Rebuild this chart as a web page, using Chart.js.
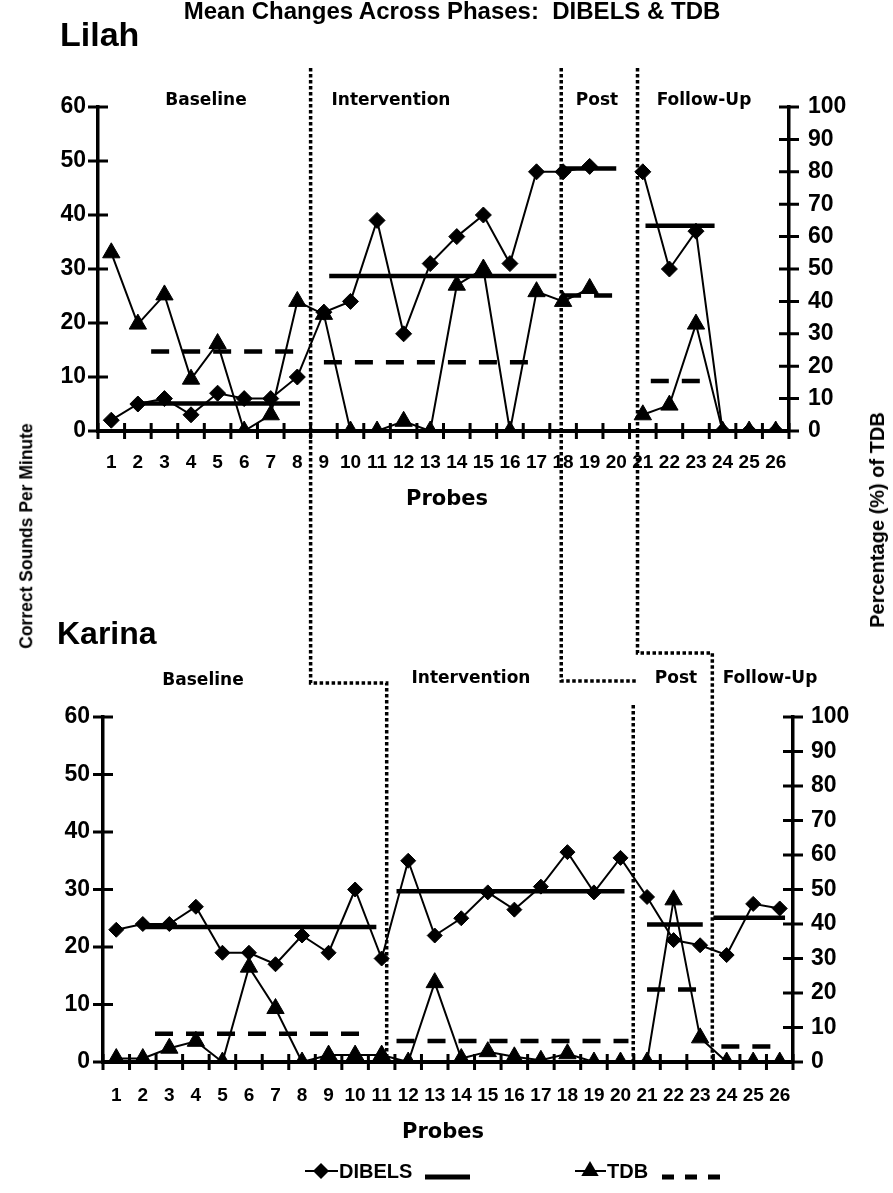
<!DOCTYPE html>
<html><head><meta charset="utf-8">
<script src="https://cdn.jsdelivr.net/npm/chart.js@4.4.1/dist/chart.umd.min.js"></script>
<style>
html,body{margin:0;padding:0;background:#fff;}
#wrap{position:relative;width:893px;height:1193px;overflow:hidden;background:#fff;}
canvas{position:absolute;left:0;top:0;}
.t{position:absolute;white-space:nowrap;color:#000;font-weight:bold;font-family:"Liberation Sans",Arial,sans-serif;line-height:1;transform:translate(-50%,-50%);}
.p{font-family:"DejaVu Sans",sans-serif;font-size:17px;}
</style></head><body>
<div id="wrap">
<canvas id="c1" width="893" height="1193"></canvas>
<canvas id="c2" width="893" height="1193"></canvas>
<div class="t" style="left:452px;top:11px;font-size:24px;">Mean Changes Across Phases:&nbsp; DIBELS &amp; TDB</div>
<div class="t" style="left:60px;top:34px;font-size:34px;transform:translate(0,-50%);">Lilah</div>
<div class="t" style="left:57px;top:633px;font-size:32px;transform:translate(0,-50%);">Karina</div>
<div class="t p" style="left:206px;top:99px;">Baseline</div>
<div class="t p" style="left:391px;top:99px;">Intervention</div>
<div class="t p" style="left:597px;top:99px;">Post</div>
<div class="t p" style="left:704px;top:99px;">Follow-Up</div>
<div class="t p" style="left:203px;top:679px;">Baseline</div>
<div class="t p" style="left:471px;top:677px;">Intervention</div>
<div class="t p" style="left:676px;top:677px;">Post</div>
<div class="t p" style="left:770px;top:677px;">Follow-Up</div>
<div class="t" style="left:447px;top:498px;font-size:21px;font-family:'DejaVu Sans',sans-serif;">Probes</div>
<div class="t" style="left:443px;top:1131px;font-size:21px;font-family:'DejaVu Sans',sans-serif;">Probes</div>
<div class="t" style="left:27px;top:536px;font-size:17.5px;transform:translate(-50%,-50%) rotate(-90deg);">Correct Sounds Per Minute</div>
<div class="t" style="left:877px;top:520px;font-size:20px;transform:translate(-50%,-50%) rotate(-90deg);">Percentage (%) of TDB</div>
</div>
<script>
// ---------- data ----------
const probes = [1,2,3,4,5,6,7,8,9,10,11,12,13,14,15,16,17,18,19,20,21,22,23,24,25,26];
const leftTicks = [0,10,20,30,40,50,60];
const rightTicks = [0,10,20,30,40,50,60,70,80,90,100];

const lilahDibels = [2,5,6,3,7,6,6,10,22,24,39,18,31,36,40,31,48,48,49,null,48,30,37,0,0,0];
const lilahTdb    = [55,33,42,16,27,0,5,40,36,0,0,3,0,45,50,0,43,40,44,null,5,8,33,0,0,0];
const karinaDibels = [23,24,24,27,19,19,17,22,19,30,18,35,22,25,29.5,26.5,30.5,36.5,29.5,35.5,28.7,21.2,20.3,18.6,27.5,26.7];
const karinaTdb    = [1,1,4,6,0,27.5,15.5,0,2,2,2,0,23,1,3,1.5,0.5,2.4,0,0,0,47,7,0,0,0];

// phase means (level) and the probe span each mean line covers
const lilahDibelsMean = [5.1, 28.7, 48.6, 38];
const lilahDibelsFrom = [2, 9.2, 18, 21.1];
const lilahDibelsTo   = [8.1, 17.75, 20, 23.7];
const lilahTdbMean = [24.5, 21.2, 41.8, 15.4];
const lilahTdbFrom = [2.5, 9.0, 18, 21.3];
const lilahTdbTo   = [8.0, 17.0, 20.2, 23.2];

const karinaDibelsMean = [23.5, 29.7, 23.9, 25.1];
const karinaDibelsFrom = [2.03, 11.56, 21.0, 23.5];
const karinaDibelsTo   = [10.8, 20.15, 23.1, 26.2];
const karinaTdbMean = [8.2, 6.1, 21, 4.5];
const karinaTdbFrom = [2.46, 11.56, 21.0, 23.8];
const karinaTdbTo   = [10.5, 20.3, 22.9, 26.05];

// phase change positions (in probe units)
const lilahBreaks  = [8.5, 17.93, 20.8];
const karinaBreaks = [11.19, 20.48, 23.46];

// ---------- helpers ----------
const FONT = "'Liberation Sans', Arial, sans-serif";
function pts(vals){ return probes.map((p,i)=>({x:p, y:vals[i]})); }
function meanSets(levels, from, to, axis, dashed){
  return levels.map((v,i)=>({
    data:[{x:from[i],y:v},{x:to[i],y:v}], yAxisID:axis,
    borderColor:'#000', borderWidth:4.5, borderDash: dashed ? [18,13] : [],
    pointRadius:0, fill:false, tension:0, borderCapStyle:'butt'
  }));
}
function series(vals, axis, style, r){
  return { data: pts(vals), yAxisID: axis, borderColor:'#000', backgroundColor:'#000',
    borderWidth:2, pointStyle:style, pointRadius:r, pointBorderWidth:1, pointBackgroundColor:'#000',
    pointBorderColor:'#000', tension:0, spanGaps:false, fill:false };
}
const crossTicks = {
  id:'crossTicks',
  beforeDatasetsDraw(chart){
    const {ctx, chartArea:a, scales} = chart;
    ctx.save(); ctx.strokeStyle='#000'; ctx.lineWidth=3;
    ctx.beginPath();
    for(let k=0;k<=probes.length;k++){
      const px = scales.x.getPixelForValue(k+0.5);
      ctx.moveTo(px, a.bottom-8); ctx.lineTo(px, a.bottom+8);
    }
    leftTicks.forEach(v=>{ const py=scales.yL.getPixelForValue(v); ctx.moveTo(a.left-10,py); ctx.lineTo(a.left+10,py); });
    rightTicks.forEach(v=>{ const py=scales.yR.getPixelForValue(v); ctx.moveTo(a.right-10,py); ctx.lineTo(a.right+10,py); });
    ctx.stroke(); ctx.restore();
  }
};
function makeOptions(padTop, padBottom, leftW, rightW, lPad, rPad, xPad){
  return {
    responsive:false, animation:false, devicePixelRatio:1,
    layout:{padding:{top:padTop,bottom:padBottom,left:0,right:0}},
    plugins:{legend:{display:false}, tooltip:{enabled:false}},
    scales:{
      x:{type:'linear', min:0.5, max:26.5,
        afterBuildTicks:s=>{ s.ticks = probes.map(v=>({value:v})); },
        afterFit:s=>{ s.height = 40; },
        grid:{display:false, drawTicks:false},
        border:{display:true, color:'#000', width:4},
        ticks:{autoSkip:false, maxRotation:0, padding:xPad, color:'#000',
          font:{family:FONT, weight:'bold', size:19}, callback:v=>String(v)}},
      yL:{type:'linear', position:'left', min:0, max:60,
        afterBuildTicks:s=>{ s.ticks = leftTicks.map(v=>({value:v})); },
        afterFit:s=>{ s.width = leftW; },
        grid:{display:false, drawTicks:false},
        border:{display:true, color:'#000', width:3.5},
        ticks:{padding:lPad, color:'#000', font:{family:FONT, weight:'bold', size:23}}},
      yR:{type:'linear', position:'right', min:0, max:100,
        afterBuildTicks:s=>{ s.ticks = rightTicks.map(v=>({value:v})); },
        afterFit:s=>{ s.width = rightW; },
        grid:{display:false, drawTicks:false},
        border:{display:true, color:'#000', width:3.5},
        ticks:{padding:rPad, color:'#000', font:{family:FONT, weight:'bold', size:23}}}
    }
  };
}

// ---------- top chart (Lilah) ----------
const chart1 = new Chart(document.getElementById('c1'), {
  type:'line',
  data:{ datasets:[
    ...meanSets(lilahDibelsMean, lilahDibelsFrom, lilahDibelsTo, 'yL', false),
    ...meanSets(lilahTdbMean, lilahTdbFrom, lilahTdbTo, 'yR', true),
    series(lilahDibels,'yL','rectRot',8),
    series(lilahTdb,'yR','triangle',10)
  ]},
  options: makeOptions(107, 1193-431-40, 98, 893-789, 12, 19, 20),
  plugins:[crossTicks]
});

// ---------- bottom chart (Karina) with phase dividers and legend ----------
const overlay = {
  id:'overlay',
  afterDraw(chart){
    const ctx = chart.ctx;
    const x1 = chart1.scales.x, x2 = chart.scales.x;
    const top1 = chart1.chartArea.top, top2 = chart.chartArea.top, bot2 = chart.chartArea.bottom;
    ctx.save();
    ctx.strokeStyle='#000'; ctx.lineWidth=3.5; ctx.setLineDash([3.5,2.5]); ctx.lineCap='butt';
    const joins = [top2-34, top2-36, top2-64];
    for(let i=0;i<3;i++){
      const xa = x1.getPixelForValue(lilahBreaks[i]);
      const xb = x2.getPixelForValue(karinaBreaks[i]);
      ctx.beginPath();
      ctx.moveTo(xa, top1-39); ctx.lineTo(xa, joins[i]); ctx.lineTo(xb+(i===1?3:0), joins[i]);
      if(i===1){ ctx.moveTo(xb, top2-12); }
      ctx.lineTo(xb, bot2);
      ctx.stroke();
    }
    ctx.setLineDash([]);
    // legend
    const ly = 1171;
    ctx.lineWidth=2;
    ctx.beginPath(); ctx.moveTo(305,ly); ctx.lineTo(338,ly); ctx.stroke();
    ctx.fillStyle='#000';
    ctx.beginPath(); ctx.moveTo(321-8,ly); ctx.lineTo(321,ly-8); ctx.lineTo(321+8,ly); ctx.lineTo(321,ly+8); ctx.closePath(); ctx.fill();
    ctx.beginPath(); ctx.moveTo(575,ly); ctx.lineTo(606,ly); ctx.stroke();
    ctx.beginPath(); ctx.moveTo(590,ly-10); ctx.lineTo(590+8.7,ly+5); ctx.lineTo(590-8.7,ly+5); ctx.closePath(); ctx.fill();
    ctx.font = "bold 20px " + FONT; ctx.textBaseline='middle'; ctx.textAlign='left';
    ctx.fillText('DIBELS', 339, ly+1);
    ctx.fillText('TDB', 607, ly+1);
    ctx.lineWidth=5;
    ctx.beginPath(); ctx.moveTo(425,ly+6); ctx.lineTo(470,ly+6); ctx.stroke();
    ctx.setLineDash([12,11]);
    ctx.beginPath(); ctx.moveTo(662,ly+6); ctx.lineTo(720,ly+6); ctx.stroke();
    ctx.restore();
  }
};
const chart2 = new Chart(document.getElementById('c2'), {
  type:'line',
  data:{ datasets:[
    ...meanSets(karinaDibelsMean, karinaDibelsFrom, karinaDibelsTo, 'yL', false),
    ...meanSets(karinaTdbMean, karinaTdbFrom, karinaTdbTo, 'yR', true),
    series(karinaDibels,'yL','rectRot',7.5),
    series(karinaTdb,'yR','triangle',10)
  ]},
  options: makeOptions(717, 1193-1062-40, 103, 893-793, 13, 18, 22),
  plugins:[crossTicks, overlay]
});
</script>
</body></html>
